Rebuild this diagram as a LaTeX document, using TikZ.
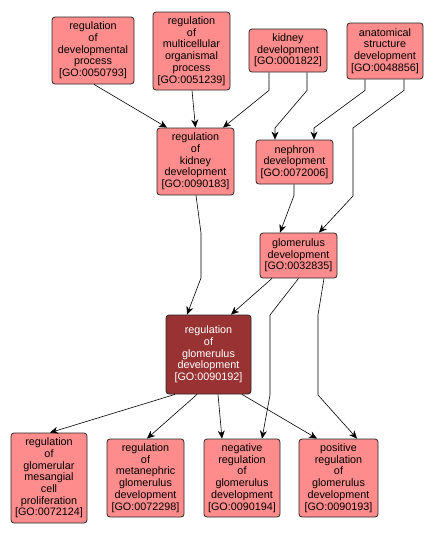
\documentclass[tikz,border=0pt]{standalone}
\usepackage{fontspec}
\setmainfont{Liberation Sans}
\usetikzlibrary{shapes.geometric, arrows.meta, positioning}
\definecolor{gopink}{RGB}{255,140,140}
\definecolor{godark}{RGB}{153,51,51}

\begin{document}
\begin{tikzpicture}[
    x=1pt, y=-1pt,
    term/.style={rectangle, draw=black!85, line width=0.8pt, fill=gopink, rounded corners=3pt, align=center, inner sep=1pt, font=\fontsize{10.8}{11.7}\selectfont},
    focus/.style={term, fill=godark, text=white},
    arrow/.style={-{Stealth[length=8pt, width=7pt, inset=2.5pt]}, line width=0.6pt}
]
\useasboundingbox (0,0) rectangle (434,536);

% Top level terms
\node[term, minimum width=82pt, minimum height=67pt] (devproc) at (93,50.5) {regulation\\of\\developmental\\process\\{[GO:0050793]}};
\node[term, minimum width=77pt, minimum height=78pt] (multicell) at (191.5,51) {regulation\\of\\multicellular\\organismal\\process\\{[GO:0051239]}};
\node[term, minimum width=78pt, minimum height=43pt] (kidneydev) at (288,50.5) {kidney\\development\\{[GO:0001822]}};
\node[term, minimum width=76pt, minimum height=56pt] (anatdev) at (385,51) {anatomical\\structure\\development\\{[GO:0048856]}};

% Middle terms
\node[term, minimum width=77pt, minimum height=67pt] (regkidney) at (195.5,161.5) {regulation\\of\\kidney\\development\\{[GO:0090183]}};
\node[term, minimum width=77pt, minimum height=44pt] (nephron) at (294.5,162) {nephron\\development\\{[GO:0072006]}};
\node[term, minimum width=77pt, minimum height=45pt] (glomdev) at (298.5,255.5) {glomerulus\\development\\{[GO:0032835]}};

% Focus term
\node[focus, minimum width=85pt, minimum height=79pt] (regglom) at (208.5,354.5) {regulation\\of\\glomerulus\\development\\{[GO:0090192]}};

% Child terms
\node[term, minimum width=76pt, minimum height=90pt] (mesangial) at (49,478) {regulation\\of\\glomerular\\mesangial\\cell\\proliferation\\{[GO:0072124]}};
\node[term, minimum width=77pt, minimum height=78pt] (metaneph) at (145.5,478) {regulation\\of\\metanephric\\glomerulus\\development\\{[GO:0072298]}};
\node[term, minimum width=76pt, minimum height=78pt] (negreg) at (242,478) {negative\\regulation\\of\\glomerulus\\development\\{[GO:0090194]}};
\node[term, minimum width=79pt, minimum height=78pt] (posreg) at (338.5,478) {positive\\regulation\\of\\glomerulus\\development\\{[GO:0090193]}};

% Edges into regulation of kidney development
\draw[arrow] ([xshift=1]devproc.south) -- ([xshift=-28.5]regkidney.north);
\draw[arrow] ([xshift=0.5]multicell.south) -- (regkidney.north);
\draw[arrow] ([xshift=-19]kidneydev.south) -- ++(0,18) -- ([xshift=27.5]regkidney.north);

% Edges into nephron development
\draw[arrow] ([xshift=19]kidneydev.south) -- ++(0,18) -- (275,128) -- ([xshift=-19.5]nephron.north);
\draw[arrow] ([xshift=-20]anatdev.south) -- ++(0,11) -- (314,128) -- ([xshift=19.5]nephron.north);

% Edges into glomerulus development
\draw[arrow] ([xshift=19]anatdev.south) -- ++(0,11) -- (353,128) -- (353,196) -- ([xshift=20.5]glomdev.north);
\draw[arrow] ([xshift=-0.5]nephron.south) -- ++(0,11) -- ([xshift=-18.5]glomdev.north);

% Edges into the focus term
\draw[arrow] ([xshift=0.5]regkidney.south) -- (201,233) -- (201,278) -- ([xshift=-21.5]regglom.north);
\draw[arrow] ([xshift=-26.5]glomdev.south) -- ([xshift=22.5]regglom.north);

% Edges from glomerulus development to children
\draw[arrow] (glomdev.south) -- (270,315) -- (270,395) -- ([xshift=20]negreg.north);
\draw[arrow] ([xshift=25.5]glomdev.south) -- (318,315) -- (318,395) -- ([xshift=18.5]posreg.north);

% Edges from the focus term to children
\draw[arrow] ([xshift=-33.5]regglom.south) -- ([xshift=1]mesangial.north);
\draw[arrow] ([xshift=-11.5]regglom.south) -- ([xshift=1.5]metaneph.north);
\draw[arrow] ([xshift=9.5]regglom.south) -- ([xshift=-20]negreg.north);
\draw[arrow] ([xshift=33.5]regglom.south) -- ([xshift=-21.5]posreg.north);

\end{tikzpicture}
\end{document}
